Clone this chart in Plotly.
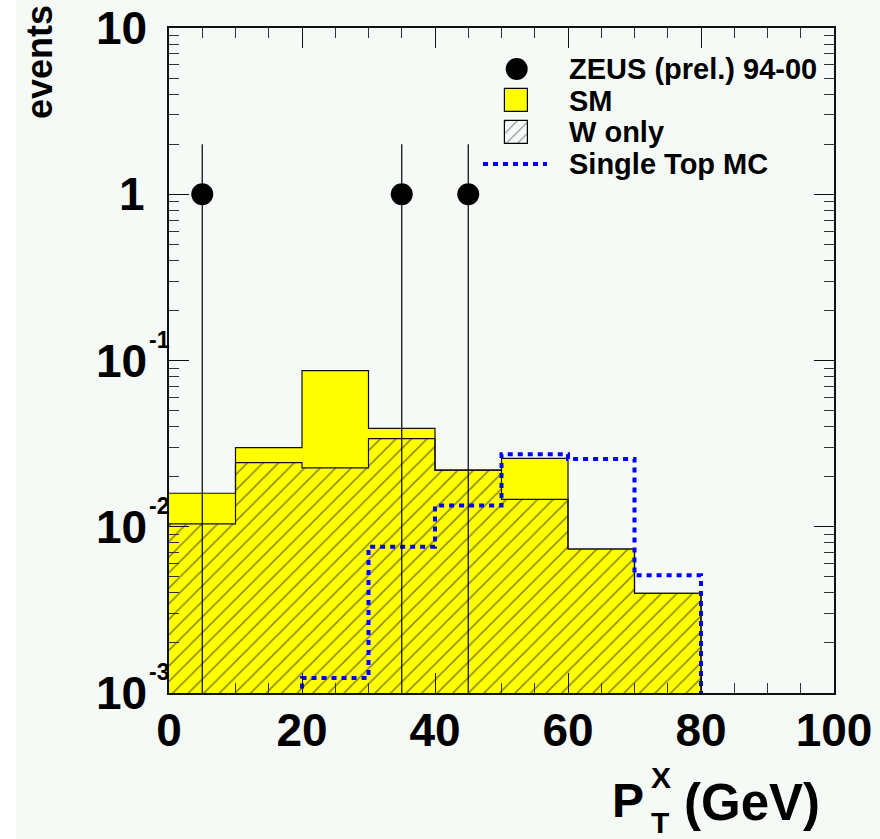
import math
import plotly.graph_objects as go

# Histogram binning in P_T^X (GeV)
bin_edges = [0, 10, 20, 30, 40, 50, 60, 70, 80, 90, 100]

# Expected events per bin
sm_events = [0.0159, 0.0299, 0.0868, 0.0391, 0.0219, 0.0258, 0.00735, 0.00398, 0, 0]
w_only_events = [0.0104, 0.0243, 0.0226, 0.0339, 0.0219, 0.0146, 0.00735, 0.00398, 0, 0]
single_top_events = [0, 0, 0.00123, 0.00759, 0.0134, 0.0273, 0.0256, 0.0051, 0, 0]

# Observed events (ZEUS preliminary 94-00)
data_x = [5, 35, 45]
data_events = [1, 1, 1]
data_err = [1, 1, 1]

# Axis ticks
x_ticks = [0, 20, 40, 60, 80, 100]
x_minor_ticks = list(range(0, 101, 5))
y_ticks = [1e-3, 1e-2, 1e-1, 1, 10]
y_minor_ticks = [m * 10.0 ** e for e in range(-3, 1) for m in range(2, 10)]
y_tick_base = ["10", "10", "10", "1", "10"]
y_tick_exp = ["-3", "-2", "-1", "", ""]

legend_labels = ["ZEUS (prel.) 94-00", "SM", "W only", "Single Top MC"]

# ---- figure geometry (pixels) ----
W, H = 880, 839
L, R, T, B = 169, 834, 28, 693
PW, PH = R - L, B - T
Y_LOG_MIN, Y_LOG_MAX = -3, 1


def fx(px):
    return (px - L) / PW


def fy(py):
    return (B - py) / PH


def fy_val(v):
    return (math.log10(v) - Y_LOG_MIN) / (Y_LOG_MAX - Y_LOG_MIN)


BG = "#F5FAF6"
YELLOW = "#FFFF00"
FONT = "Liberation Sans"

centers = [(a + b) / 2 for a, b in zip(bin_edges[:-1], bin_edges[1:])]
widths = [b - a for a, b in zip(bin_edges[:-1], bin_edges[1:])]


def step_y(vals, floor=1e-5):
    y = [v if v > 0 else floor for v in vals]
    return y + [y[-1]]


hatch = dict(shape="/", fgcolor="#000000", bgcolor=YELLOW, size=11, solidity=0.14)

fig = go.Figure()

# SM histogram (solid yellow)
fig.add_trace(go.Bar(x=centers, y=sm_events, width=widths,
                     marker=dict(color=YELLOW, line=dict(width=0)),
                     showlegend=False))
# W-only contribution (hatched)
fig.add_trace(go.Bar(x=centers, y=w_only_events, width=widths,
                     marker=dict(color=YELLOW, pattern=hatch, line=dict(width=0)),
                     showlegend=False))
# histogram outlines
for vals in (sm_events, w_only_events):
    fig.add_trace(go.Scatter(x=bin_edges, y=step_y(vals), mode="lines",
                             line=dict(shape="hv", color="#111111", width=1.2),
                             showlegend=False, hoverinfo="skip"))
# Single top MC
fig.add_trace(go.Scatter(x=bin_edges, y=step_y(single_top_events), mode="lines",
                         line=dict(shape="hv", color="#0000FF", width=4, dash="5px,5px"),
                         showlegend=False))
# Data points
fig.add_trace(go.Scatter(x=data_x, y=data_events, mode="markers",
                         marker=dict(symbol="circle", size=22, color="black"),
                         error_y=dict(type="data", array=data_err, arrayminus=data_err,
                                      color="black", thickness=1.2, width=0),
                         showlegend=False))

# ---- legend drawn on an overlaid unit-square axis pair ----
lx = 516.7
fig.add_trace(go.Scatter(x=[fx(lx)], y=[fy(69)], xaxis="x2", yaxis="y2", mode="markers",
                         marker=dict(symbol="circle", size=22, color="black"),
                         showlegend=False, hoverinfo="skip"))
box_w = 23 / PW
fig.add_trace(go.Bar(x=[fx(lx)], y=[23 / PH], base=[fy(112)], width=[box_w],
                     xaxis="x2", yaxis="y2",
                     marker=dict(color=YELLOW, line=dict(color="black", width=1.2)),
                     showlegend=False, hoverinfo="skip"))
fig.add_trace(go.Bar(x=[fx(lx)], y=[23 / PH], base=[fy(144)], width=[box_w],
                     xaxis="x2", yaxis="y2",
                     marker=dict(color=BG, line=dict(color="black", width=1.2),
                                 pattern=dict(shape="/", fgcolor="#000000", bgcolor=BG,
                                              size=8, solidity=0.12)),
                     showlegend=False, hoverinfo="skip"))
fig.add_trace(go.Scatter(x=[fx(483), fx(547)], y=[fy(164), fy(164)], xaxis="x2", yaxis="y2",
                         mode="lines", line=dict(color="#0000FF", width=4, dash="5px,5px"),
                         showlegend=False, hoverinfo="skip"))

annotations = []
for label, ry in zip(legend_labels, [69, 101, 132, 164]):
    annotations.append(dict(text=label, x=fx(567), y=fy(ry), xref="paper", yref="paper",
                            xanchor="left", yanchor="middle", showarrow=False,
                            font=dict(family=FONT, size=29, color="black", weight="bold")))

# y tick labels: mantissa plus raised exponent
tick_font = dict(family=FONT, size=46, color="black", weight="bold")
exp_font = dict(family=FONT, size=23, color="black", weight="bold")
for v, base, ex in zip(y_ticks, y_tick_base, y_tick_exp):
    annotations.append(dict(text=base, x=fx(149 if base == "10" else 147), y=fy_val(v),
                            xref="paper", yref="paper", xanchor="right", yanchor="middle",
                            showarrow=False, font=tick_font))
    if ex:
        annotations.append(dict(text=ex, x=fx(147), y=fy_val(v), yshift=21,
                                xref="paper", yref="paper", xanchor="left",
                                yanchor="middle", showarrow=False, font=exp_font))

# axis titles
annotations.append(dict(text="events", textangle=-90, x=fx(40), y=fy(62), xref="paper",
                        yref="paper", xanchor="center", yanchor="middle", showarrow=False,
                        font=dict(family=FONT, size=36, color="black", weight="bold")))
title_font = dict(family=FONT, size=48, color="black", weight="bold")
sub_font = dict(family=FONT, size=30, color="black", weight="bold")
annotations += [
    dict(text="P", x=fx(646), y=fy(800), xref="paper", yref="paper", xanchor="right",
         yanchor="middle", showarrow=False, font=title_font),
    dict(text="X", x=fx(649), y=fy(777), xref="paper", yref="paper", xanchor="left",
         yanchor="middle", showarrow=False, font=sub_font),
    dict(text="T", x=fx(649), y=fy(822), xref="paper", yref="paper", xanchor="left",
         yanchor="middle", showarrow=False, font=sub_font),
    dict(text="(GeV)", x=fx(822), y=fy(802), xref="paper", yref="paper", xanchor="right",
         yanchor="middle", showarrow=False,
         font=dict(family=FONT, size=51, color="black", weight="bold")),
]

axis_common = dict(showgrid=False, zeroline=False, showline=True, linecolor="#111111",
                   linewidth=1.5, mirror="ticks", ticks="inside", tickcolor="#111111",
                   tickwidth=1, ticklen=20, tickfont=tick_font)

fig.update_layout(
    width=W, height=H,
    margin=dict(l=L, r=W - R, t=T, b=H - B, autoexpand=False),
    paper_bgcolor=BG, plot_bgcolor=BG,
    barmode="overlay", bargap=0, showlegend=False,
    xaxis=dict(range=[0, 100], tickvals=x_ticks, ticklabelstandoff=-4,
               minor=dict(ticks="inside", ticklen=10, tickvals=x_minor_ticks,
                          tickcolor="#333333", tickwidth=1),
               **axis_common),
    yaxis=dict(type="log", range=[Y_LOG_MIN, Y_LOG_MAX], tickvals=y_ticks,
               showticklabels=False,
               minor=dict(ticks="inside", ticklen=10, tickvals=y_minor_ticks,
                          tickcolor="#333333", tickwidth=1),
               **axis_common),
    xaxis2=dict(overlaying="x", range=[0, 1], visible=False),
    yaxis2=dict(overlaying="y", range=[0, 1], visible=False),
    annotations=annotations,
    shapes=[dict(type="rect", xref="paper", yref="paper", x0=fx(0), x1=fx(16),
                 y0=fy(H), y1=fy(0), fillcolor="white", line=dict(width=0), layer="below")],
)

fig.write_html("out.html")
